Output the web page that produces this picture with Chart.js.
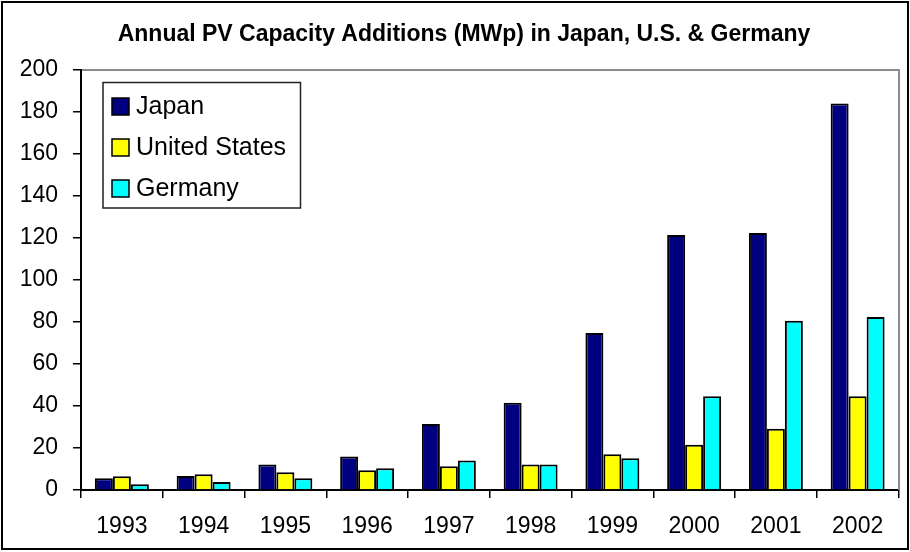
<!DOCTYPE html>
<html>
<head>
<meta charset="utf-8">
<script src="https://cdn.jsdelivr.net/npm/chart.js@4/dist/chart.umd.min.js"></script>
<style>
html,body{margin:0;padding:0;background:#fff;}
#wrap{width:910px;height:552px;position:relative;}
canvas{display:block;}
</style>
</head>
<body>
<div id="wrap"><canvas id="c" width="910" height="552"></canvas></div>
<script>
const chartTitle = 'Annual PV Capacity Additions (MWp) in Japan, U.S. & Germany';
const years = ['1993','1994','1995','1996','1997','1998','1999','2000','2001','2002'];
const seriesNames = ['Japan','United States','Germany'];
const japan = [5.6, 6.7, 12.2, 16.0, 31.4, 41.6, 74.8, 121.4, 122.4, 184.1];
const unitedStates = [6.5, 7.5, 8.4, 9.4, 11.3, 12.1, 17.0, 21.6, 29.2, 44.6];
const germany = [2.7, 3.8, 5.6, 10.3, 14.1, 12.1, 15.1, 44.6, 80.6, 82.4];
const yMin = 0, yMax = 200, yStep = 20;

const FONT = '"Liberation Sans", Arial, "Helvetica", sans-serif';
const colors = ['#000080', '#FFFF00', '#00FFFF'];

const framePlugin = {
  id: 'frame',
  beforeDraw(chart) {
    const ctx = chart.ctx;
    ctx.save();
    ctx.fillStyle = '#ffffff';
    ctx.fillRect(0, 0, chart.width, chart.height);
    ctx.restore();
  },
  afterDraw(chart) {
    const ctx = chart.ctx;
    const a = chart.chartArea;
    ctx.save();
    // grey plot border (top and right)
    ctx.strokeStyle = '#8c8c8c';
    ctx.lineWidth = 2;
    ctx.beginPath();
    ctx.moveTo(a.left + 1, a.top);
    ctx.lineTo(a.right + 0.5, a.top);
    ctx.lineTo(a.right + 0.5, a.bottom);
    ctx.stroke();
    // outer black frame
    ctx.strokeStyle = '#000000';
    ctx.lineWidth = 2;
    ctx.strokeRect(2, 2, 906, 547);
    // legend
    const lx = 103, ly = 82.5, lw = 197.5, lh = 125.5;
    ctx.fillStyle = '#ffffff';
    ctx.fillRect(lx, ly, lw, lh);
    ctx.strokeStyle = '#222222';
    ctx.lineWidth = 1.5;
    ctx.strokeRect(lx, ly, lw, lh);
    ctx.font = '25px ' + FONT;
    ctx.textBaseline = 'alphabetic';
    ctx.textAlign = 'left';
    chart.data.datasets.forEach((ds, i) => {
      const top = 98 + i * 41;
      ctx.fillStyle = ds.backgroundColor;
      ctx.fillRect(112, top, 17, 17);
      ctx.strokeStyle = '#000';
      ctx.lineWidth = 1.5;
      ctx.strokeRect(112, top, 17, 17);
      ctx.fillStyle = '#000';
      ctx.fillText(ds.label, 136, top + 15.5);
    });
    ctx.restore();
  }
};

new Chart(document.getElementById('c'), {
  type: 'bar',
  data: {
    labels: years,
    datasets: [
      { label: seriesNames[0], data: japan, backgroundColor: colors[0] },
      { label: seriesNames[1], data: unitedStates, backgroundColor: colors[1] },
      { label: seriesNames[2], data: germany, backgroundColor: colors[2] }
    ].map(d => Object.assign(d, {
      borderColor: '#000000',
      borderWidth: 2,
      categoryPercentage: 0.66,
      barPercentage: 1.0
    }))
  },
  options: {
    responsive: false,
    devicePixelRatio: 1,
    animation: false,
    layout: { padding: { left: 20, right: 2, top: 4, bottom: 2 } },
    plugins: {
      legend: { display: false },
      tooltip: { enabled: false },
      title: {
        display: true,
        text: chartTitle,
        color: '#000',
        font: { family: FONT, size: 23, weight: 'bold', lineHeight: 1.2 },
        padding: { top: 16.7, bottom: 21.7 }
      }
    },
    scales: {
      x: {
        grid: { display: true, drawOnChartArea: false, drawTicks: true, tickLength: 8, color: '#000', lineWidth: 1.5, offset: true },
        border: { display: true, color: '#000', width: 2 },
        ticks: { color: '#000', font: { family: FONT, size: 23 }, padding: 15, maxRotation: 0, autoSkip: false },
        afterFit(s) { s.height = 60; }
      },
      y: {
        min: yMin, max: yMax,
        grid: { display: true, drawOnChartArea: false, drawTicks: true, tickLength: 8, color: '#000', lineWidth: 1.5 },
        border: { display: true, color: '#000', width: 2 },
        ticks: { stepSize: yStep, color: '#000', font: { family: FONT, size: 23 }, padding: 15 },
        afterFit(s) { s.width = 61; }
      },
      y2: {
        position: 'right',
        display: true,
        grid: { display: false },
        border: { display: false },
        ticks: { display: false },
        afterFit(s) { s.width = 9.5; }
      }
    }
  },
  plugins: [framePlugin]
});
</script>
</body>
</html>
